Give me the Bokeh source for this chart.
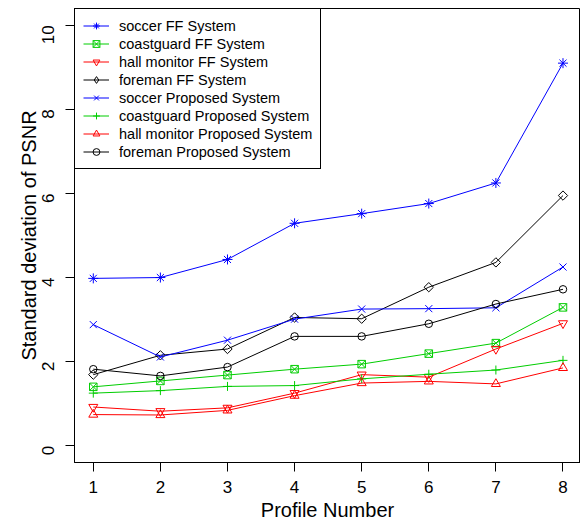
import numpy as np
from bokeh.plotting import figure
from bokeh.models import FixedTicker, Range1d, Legend, LegendItem, ColumnDataSource
from bokeh.embed import file_html
from bokeh.resources import INLINE

profiles = [1, 2, 3, 4, 5, 6, 7, 8]
soccer_ff = [3.98, 4.00, 4.43, 5.29, 5.52, 5.76, 6.25, 9.10]
coastguard_ff = [1.40, 1.54, 1.68, 1.82, 1.94, 2.19, 2.44, 3.29]
hall_ff = [0.92, 0.82, 0.90, 1.25, 1.69, 1.63, 2.30, 2.91]
foreman_ff = [1.69, 2.15, 2.30, 3.05, 3.02, 3.77, 4.36, 5.95]
soccer_pr = [2.88, 2.11, 2.51, 3.01, 3.25, 3.26, 3.28, 4.25]
coastguard_pr = [1.25, 1.31, 1.41, 1.43, 1.59, 1.70, 1.80, 2.03]
hall_pr = [0.74, 0.73, 0.84, 1.19, 1.49, 1.53, 1.47, 1.85]
foreman_pr = [1.82, 1.66, 1.87, 2.60, 2.60, 2.90, 3.37, 3.72]
x_ticks = [1, 2, 3, 4, 5, 6, 7, 8]
y_ticks = [0, 2, 4, 6, 8, 10]

FONT = "Liberation Sans"
BLUE, GREEN, RED, BLACK = "#0000FF", "#00CD00", "#FF0000", "#000000"

p = figure(width=580, height=524, output_backend="svg", toolbar_location=None,
           x_range=Range1d(0.72, 8.261), y_range=Range1d(-0.4, 10.4),
           min_border_left=74, min_border_right=0, min_border_top=8, min_border_bottom=62)
p.xgrid.visible = False
p.ygrid.visible = False
p.outline_line_color = "black"
p.outline_line_width = 1
p.outline_line_alpha = 1
p.background_fill_color = "white"
p.border_fill_color = "white"

for ax in (p.xaxis[0], p.yaxis[0]):
    ax.axis_line_color = "black"
    ax.major_tick_line_color = "black"
    ax.major_tick_out = 9
    ax.major_tick_in = 0
    ax.minor_tick_line_color = None
    ax.major_label_text_font = FONT
    ax.major_label_text_font_size = "17px"
    ax.major_label_text_color = "black"
    ax.axis_label_text_font = FONT
    ax.axis_label_text_font_size = "20px"
    ax.axis_label_text_font_style = "normal"
    ax.axis_label_text_color = "black"

p.xaxis[0].ticker = FixedTicker(ticks=x_ticks)
p.yaxis[0].ticker = FixedTicker(ticks=y_ticks)
p.xaxis[0].axis_label = "Profile Number"
p.yaxis[0].axis_label = "Standard deviation of PSNR"
p.yaxis[0].major_label_orientation = np.pi / 2
p.xaxis[0].major_label_standoff = 9
p.yaxis[0].major_label_standoff = 17
p.xaxis[0].axis_label_standoff = 3
p.yaxis[0].axis_label_standoff = -6

series = [
    ("soccer FF System", soccer_ff, BLUE, "asterisk", 10, 0, "asterisk"),
    ("coastguard FF System", coastguard_ff, GREEN, "square_x", 7.5, 0, "square_x"),
    ("hall monitor FF System", hall_ff, RED, "inverted_triangle", 9, 0, "inverted_triangle"),
    ("foreman FF System", foreman_ff, BLACK, "square", 6.6, np.pi / 4, "diamond"),
    ("soccer Proposed System", soccer_pr, BLUE, "x", 10, 0, "x"),
    ("coastguard Proposed System", coastguard_pr, GREEN, "cross", 9, 0, "cross"),
    ("hall monitor Proposed System", hall_pr, RED, "triangle", 9, 0, "triangle"),
    ("foreman Proposed System", foreman_pr, BLACK, "circle", 7.5, 0, "circle"),
]

items = []
for label, ys, color, marker, size, ang, leg_marker in series:
    src = ColumnDataSource(dict(x=profiles, y=ys))
    r1 = p.line("x", "y", source=src, line_color=color, line_width=1)
    r2 = p.scatter("x", "y", source=src, marker=marker, size=size, angle=ang,
                   line_color=color, fill_color=None, line_width=1)
    if leg_marker != marker:
        # legend-only proxy (not drawn in the plot: NaN position)
        proxy = ColumnDataSource(dict(x=np.array([np.nan]), y=np.array([np.nan])))
        r3 = p.scatter("x", "y", source=proxy, marker=leg_marker, size=size,
                       line_color=color, fill_color=None, line_width=1)
        items.append(LegendItem(label=label, renderers=[r1, r3]))
    else:
        items.append(LegendItem(label=label, renderers=[r1, r2]))

legend = Legend(items=items, location="top_left")
legend.margin = 0
legend.padding = 8
legend.spacing = 1
legend.glyph_width = 26
legend.glyph_height = 17
legend.label_height = 17
legend.label_standoff = 10
legend.label_text_font = FONT
legend.label_text_font_size = "14.5px"
legend.label_text_color = "black"
legend.border_line_color = "black"
legend.border_line_width = 1
legend.border_line_alpha = 1
legend.background_fill_color = "white"
legend.background_fill_alpha = 1
p.add_layout(legend)

open("out.html", "w").write(file_html(p, INLINE))
